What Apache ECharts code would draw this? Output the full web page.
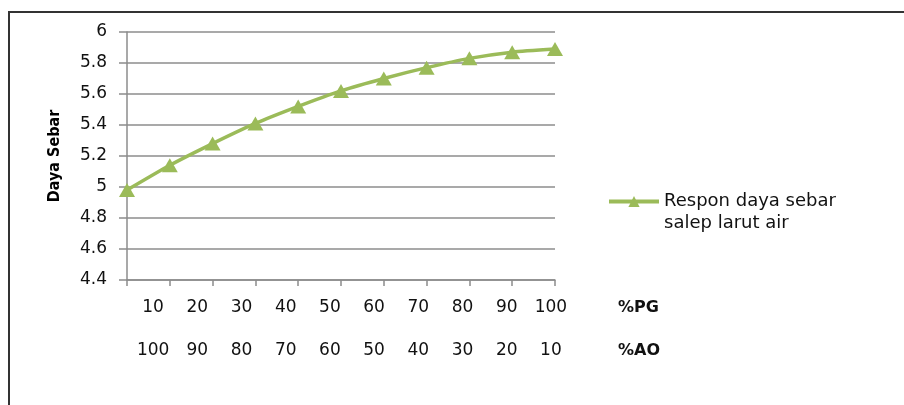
<!DOCTYPE html>
<html>
<head>
<meta charset="utf-8">
<title>Respon daya sebar salep larut air</title>
<script src="https://cdn.jsdelivr.net/npm/echarts@6/dist/echarts.min.js"></script>
<style>
  html, body { margin: 0; padding: 0; background: #fff; }
  #chart { width: 904px; height: 405px; }
</style>
</head>
<body>
<div id="chart"></div>
<script>
// Spreading response of the water-soluble ointment base
const seriesName = 'Respon daya sebar\nsalep larut air';
const dayaSebar = [4.98, 5.14, 5.28, 5.41, 5.52, 5.62, 5.70, 5.77, 5.83, 5.87, 5.89];

// Composition rows printed under the axis
const pgLabels = ['10', '20', '30', '40', '50', '60', '70', '80', '90', '100'];
const aoLabels = ['100', '90', '80', '70', '60', '50', '40', '30', '20', '10'];

// Y scale
const yMin = 4.4;
const yMax = 6;
const yStep = 0.2;

const GREEN = '#9bbb59';
const GRID_GREY = '#8c8c8c';
const FONT = 'DejaVu Sans';
const LABEL_SIZE = 17;

const chart = echarts.init(document.getElementById('chart'), null, { renderer: 'canvas' });

const labelAxis = (data, name, offset) => ({
  type: 'category',
  gridIndex: 1,
  data: data,
  boundaryGap: true,
  position: 'bottom',
  offset: offset,
  axisLine: { show: false },
  axisTick: { show: false },
  splitLine: { show: false },
  axisLabel: {
    margin: 0,
    verticalAlign: 'middle',
    interval: 0,
    color: '#111',
    fontFamily: FONT,
    fontSize: LABEL_SIZE
  },
  name: name,
  nameLocation: 'end',
  nameGap: 45,
  nameTextStyle: {
    color: '#111',
    fontFamily: FONT,
    fontWeight: 'bold',
    fontSize: 16,
    align: 'left',
    verticalAlign: 'middle'
  }
});

chart.setOption({
  animation: false,
  backgroundColor: '#fff',
  graphic: [{
    type: 'rect',
    shape: { x: 9, y: 12, width: 1000, height: 500 },
    style: { fill: 'none', stroke: '#333', lineWidth: 2 },
    silent: true
  }],
  grid: [
    { left: 127, top: 32, width: 428, height: 248 },
    { left: 131, top: 307, width: 442, height: 1 }
  ],
  legend: {
    data: [seriesName],
    left: 602,
    top: 187,
    itemWidth: 50,
    itemHeight: 14,
    itemGap: 0,
    lineStyle: { width: 4 },
    formatter: name => {
      const lines = name.split('\n');
      return '{first|' + lines[0] + '}\n{second|' + lines[1] + '}';
    },
    textStyle: {
      color: '#111',
      fontFamily: FONT,
      fontSize: 18,
      rich: {
        first: { fontFamily: FONT, fontSize: 18, color: '#111', lineHeight: 44 },
        second: { fontFamily: FONT, fontSize: 18, color: '#111', lineHeight: 1 }
      }
    }
  },
  xAxis: [
    {
      type: 'category',
      gridIndex: 0,
      data: dayaSebar.map((_, i) => i),
      boundaryGap: false,
      axisLine: { show: true, lineStyle: { color: GRID_GREY, width: 1.5 } },
      axisTick: { show: true, length: 6, lineStyle: { color: GRID_GREY, width: 1.5 } },
      axisLabel: { show: false },
      splitLine: { show: false }
    },
    labelAxis(pgLabels, '%PG', 0),
    labelAxis(aoLabels, '%AO', 43)
  ],
  yAxis: [
    {
      type: 'value',
      gridIndex: 0,
      min: yMin,
      max: yMax,
      interval: yStep,
      name: 'Daya Sebar',
      nameLocation: 'middle',
      nameGap: 64,
      nameTextStyle: {
        color: '#000',
        fontFamily: '"DejaVu Sans Condensed", "DejaVu Sans", sans-serif',
        fontWeight: 'bold',
        fontSize: 16
      },
      axisLine: { show: true, lineStyle: { color: GRID_GREY, width: 1.5 } },
      axisTick: { show: true, length: 8, lineStyle: { color: GRID_GREY, width: 1.5 } },
      axisLabel: {
        margin: 20,
        color: '#111',
        fontFamily: FONT,
        fontSize: LABEL_SIZE,
        formatter: v => String(+v.toFixed(1))
      },
      splitLine: { show: true, lineStyle: { color: GRID_GREY, width: 1.5 } }
    },
    {
      type: 'value',
      gridIndex: 1,
      show: false
    }
  ],
  series: [{
    name: seriesName,
    type: 'line',
    xAxisIndex: 0,
    yAxisIndex: 0,
    data: dayaSebar,
    smooth: 0.2,
    symbol: 'triangle',
    symbolSize: [16, 14],
    clip: false,
    lineStyle: { color: GREEN, width: 3.5 },
    itemStyle: { color: GREEN }
  }]
});
</script>
</body>
</html>
